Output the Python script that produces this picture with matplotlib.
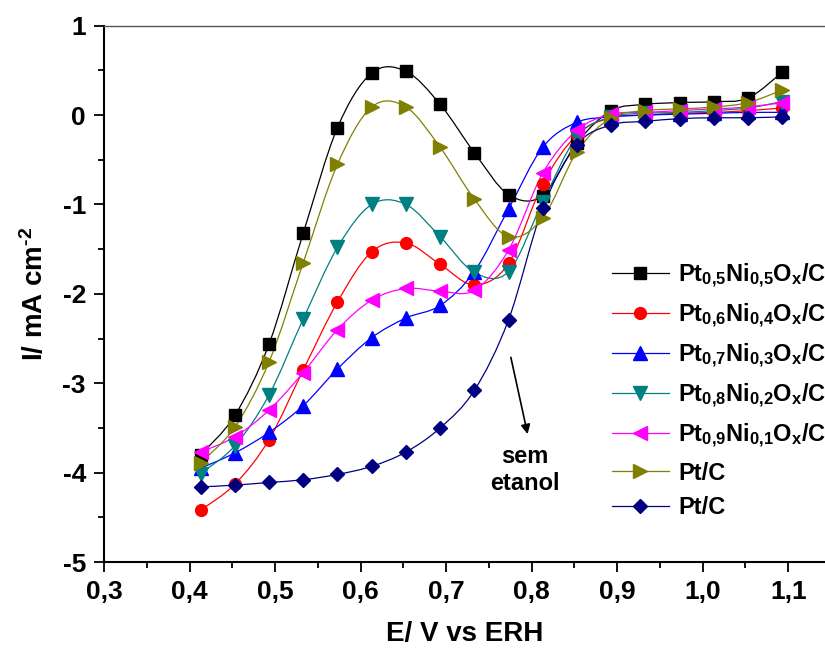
import numpy as np
import matplotlib
matplotlib.use("Agg")
import matplotlib.pyplot as plt
from matplotlib.path import Path
from matplotlib.patches import PathPatch
from matplotlib.lines import Line2D
from matplotlib.ticker import FixedLocator, MultipleLocator, FuncFormatter

# ==========================
# dados
# ==========================
E = [0.413, 0.453, 0.493, 0.533, 0.573, 0.613, 0.653, 0.693, 0.733,
     0.773, 0.813, 0.853, 0.893, 0.933, 0.973, 1.013, 1.053, 1.093]

pt50 = [-3.80, -3.36, -2.56, -1.32, -0.14, 0.47, 0.49, 0.12, -0.42,
        -0.89, -0.90, -0.31, 0.05, 0.12, 0.14, 0.15, 0.19, 0.48]
pt60 = [-4.42, -4.13, -3.63, -2.85, -2.09, -1.53, -1.43, -1.67, -1.90,
        -1.66, -0.77, -0.22, -0.03, 0.00, 0.02, 0.03, 0.05, 0.08]
pt70 = [-3.95, -3.78, -3.55, -3.25, -2.84, -2.49, -2.27, -2.13, -1.75,
        -1.05, -0.36, -0.08, -0.02, 0.00, 0.01, 0.02, 0.03, 0.03]
pt80 = [-4.01, -3.70, -3.13, -2.28, -1.48, -1.00, -1.00, -1.36, -1.76,
        -1.75, -0.97, -0.24, -0.02, 0.02, 0.03, 0.05, 0.08, 0.15]
pt90 = [-3.77, -3.60, -3.30, -2.88, -2.40, -2.07, -1.94, -1.97, -1.96,
        -1.51, -0.65, -0.17, 0.01, 0.03, 0.05, 0.07, 0.09, 0.14]
ptc = [-3.89, -3.49, -2.76, -1.65, -0.55, 0.09, 0.09, -0.36, -0.94,
       -1.36, -1.15, -0.41, -0.03, 0.05, 0.07, 0.09, 0.14, 0.28]
ptc_sem = [-4.16, -4.14, -4.11, -4.08, -4.02, -3.93, -3.77, -3.50, -3.08,
           -2.29, -1.04, -0.33, -0.11, -0.07, -0.04, -0.03, -0.03, -0.02]

labels = [
    r"Pt$_{0{,}5}$Ni$_{0{,}5}$O$_{x}$/C",
    r"Pt$_{0{,}6}$Ni$_{0{,}4}$O$_{x}$/C",
    r"Pt$_{0{,}7}$Ni$_{0{,}3}$O$_{x}$/C",
    r"Pt$_{0{,}8}$Ni$_{0{,}2}$O$_{x}$/C",
    r"Pt$_{0{,}9}$Ni$_{0{,}1}$O$_{x}$/C",
    "Pt/C",
    "Pt/C",
]

x_ticks = [0.3, 0.4, 0.5, 0.6, 0.7, 0.8, 0.9, 1.0, 1.1]
y_ticks = [-5, -4, -3, -2, -1, 0, 1]

# estilos (cor, marcador, tamanho)
series = [
    (pt50, "#000000", "s", 8.0),
    (pt60, "#FF0000", "o", 8.5),
    (pt70, "#0000FF", "^", 10.0),
    (pt80, "#008080", "v", 10.0),
    (pt90, "#FF00FF", "<", 10.0),
    (ptc, "#808000", ">", 10.0),
    (ptc_sem, "#000080", "D", 7.5),
]

plt.rcParams["font.family"] = ["Liberation Sans", "DejaVu Sans"]
plt.rcParams["font.weight"] = "bold"
plt.rcParams["mathtext.fontset"] = "custom"
plt.rcParams["mathtext.rm"] = "Liberation Sans:bold"
plt.rcParams["mathtext.it"] = "Liberation Sans:bold"
plt.rcParams["mathtext.bf"] = "Liberation Sans:bold"
plt.rcParams["mathtext.default"] = "regular"


def smooth_path(xs, ys):
    # curva suave (Catmull-Rom -> Bezier cúbica) passando pelos pontos
    pts = np.column_stack([xs, ys])
    n = len(pts)
    verts = [pts[0]]
    codes = [Path.MOVETO]
    for i in range(n - 1):
        p0 = pts[i - 1] if i > 0 else pts[i]
        p1 = pts[i]
        p2 = pts[i + 1]
        p3 = pts[i + 2] if i + 2 < n else pts[i + 1]
        c1 = p1 + (p2 - p0) / 6.0
        c2 = p2 - (p3 - p1) / 6.0
        verts += [c1, c2, p2]
        codes += [Path.CURVE4] * 3
    return Path(verts, codes)


fig = plt.figure(figsize=(8.25, 6.53), dpi=100)
ax = fig.add_axes([104 / 825, 1 - 562 / 653, 1 - 104 / 825, (562 - 25.7) / 653])

handles = []
for ys, color, marker, ms in series:
    patch = PathPatch(smooth_path(E, ys), facecolor="none", edgecolor=color, lw=0.9)
    ax.add_patch(patch)
    ax.plot(E, ys, linestyle="none", marker=marker, ms=ms, color=color, mec=color)
    handles.append(Line2D([], [], color=color, lw=0.9, marker=marker, ms=ms, mec=color))

ax.set_xlim(0.3, 1.143)
ax.set_ylim(-5, 1)

ax.xaxis.set_major_locator(FixedLocator(x_ticks))
ax.xaxis.set_minor_locator(MultipleLocator(0.05))
ax.yaxis.set_major_locator(FixedLocator(y_ticks))
ax.yaxis.set_minor_locator(MultipleLocator(0.5))
ax.xaxis.set_major_formatter(FuncFormatter(lambda v, p: f"{v:.1f}".replace(".", ",")))
ax.yaxis.set_major_formatter(FuncFormatter(lambda v, p: f"{int(round(v))}"))

ax.tick_params(which="major", direction="out", length=7, width=1.3, labelsize=19, pad=6)
ax.tick_params(which="minor", direction="out", length=4.3, width=1.3)
ax.spines["right"].set_visible(False)
ax.spines["top"].set_color("#555555")
ax.spines["top"].set_linewidth(1.0)
ax.spines["left"].set_linewidth(1.5)
ax.spines["bottom"].set_linewidth(1.5)

ax.set_xlabel("E/ V vs ERH", fontsize=20, fontweight="bold", labelpad=12)
ax.set_ylabel(r"I/ mA cm$^{\text{-2}}$", fontsize=20, fontweight="bold", labelpad=10)

# seta e texto "sem etanol"
ax.annotate("", xy=(0.796, -3.60), xytext=(0.775, -2.68),
            arrowprops=dict(arrowstyle="-|>", color="black", lw=1.2, mutation_scale=14))
ax.text(0.792, -3.97, "sem\netanol", ha="center", va="center",
        fontsize=17, fontweight="bold", linespacing=1.25)

ax.legend(handles, labels, loc="upper left", bbox_to_anchor=(612 / 825, 1 - 262 / 653),
          bbox_transform=fig.transFigure, frameon=False, fontsize=17,
          handlelength=2.4, handletextpad=0.4, labelspacing=0.5, borderpad=0,
          borderaxespad=0)

fig.savefig("out.png", dpi=100)
